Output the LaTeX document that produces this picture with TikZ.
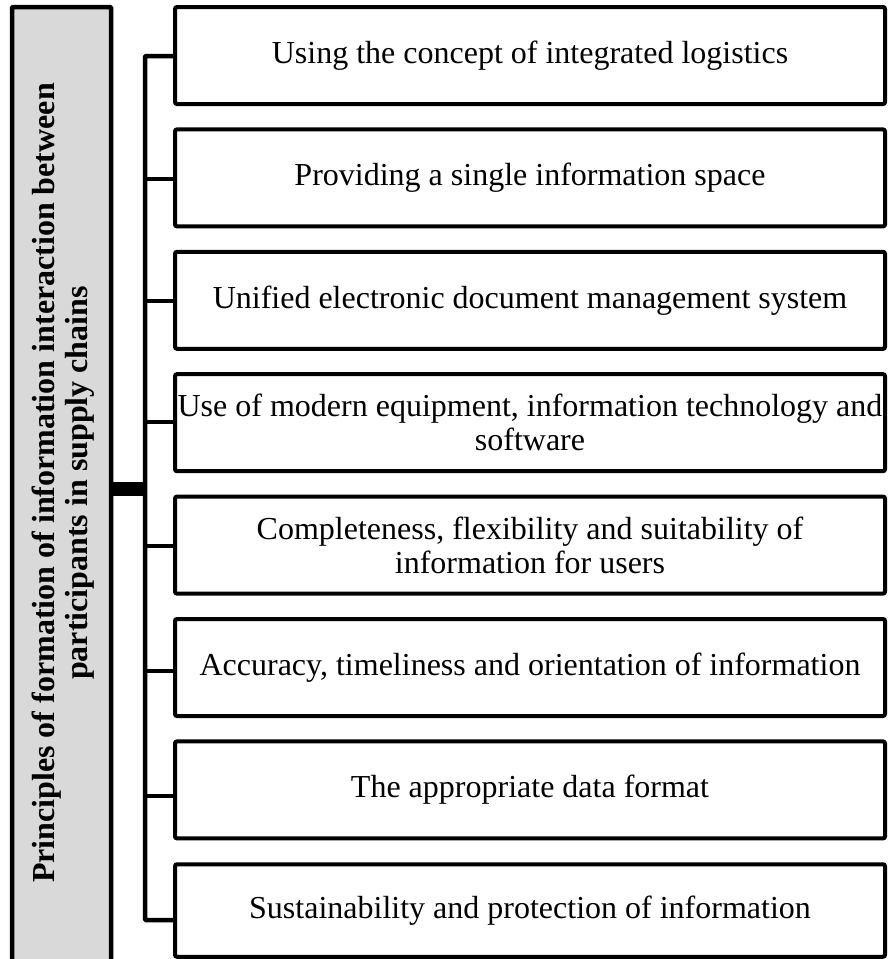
\documentclass[tikz,border=0pt]{standalone}
\usepackage{fontspec}
\setmainfont{Liberation Serif}
\definecolor{leftgray}{RGB}{217,217,217}
\begin{document}
\begin{tikzpicture}[x=1pt,y=-1pt,
  box/.style={draw, line width=4pt, rounded corners=2pt, minimum width=710pt, minimum height=97pt, inner sep=0pt, align=center, font=\fontsize{32}{34}\selectfont},
  conn/.style={line width=4.5pt},
  hubline/.style={line width=14pt},
  mainbox/.style={draw, line width=4.5pt, fill=leftgray, minimum width=99pt, minimum height=980pt, inner sep=0pt, rounded corners=1pt},
  maintext/.style={rotate=90, align=center, inner sep=0pt, font=\bfseries\fontsize{32}{33}\selectfont}
]
\useasboundingbox (0,0) rectangle (888,959);
\clip (0,0) rectangle (888,959);
\node[mainbox] (left) at (61.5,497) {};
\node[maintext] (lefttext) at (63,483) {Principles of formation of information interaction between\\participants in supply chains};

\node[box] (n1) at (530,55.5) {Using the concept of integrated logistics};
\node[box] (n2) at (530,177.9) {Providing a single information space};
\node[box] (n3) at (530,300.3) {Unified electronic document management system};
\node[box] (n4) at (530,422.7) {Use of modern equipment, information technology and\\software};
\node[box] (n5) at (530,545.1) {Completeness, flexibility and suitability of\\information for users};
\node[box] (n6) at (530,667.5) {Accuracy, timeliness and orientation of information};
\node[box] (n7) at (530,789.9) {The appropriate data format};
\node[box, minimum height=92.5pt] (n8) at (530,910.5) {Sustainability and protection of information};

\coordinate (b1) at (145,56);
\coordinate (b2) at (145,179);
\coordinate (b3) at (145,301);
\coordinate (b4) at (145,422);
\coordinate (b5) at (145,546);
\coordinate (b6) at (145,671);
\coordinate (b7) at (145,796);
\coordinate (b8) at (145,920);
\coordinate (hub) at (145,489);

\draw[conn, rounded corners=1pt] (b1 -| n1.west) -- (b1) -- (b8) -- (b8 -| n8.west);
\draw[conn] (b2) -- (b2 -| n2.west);
\draw[conn] (b3) -- (b3 -| n3.west);
\draw[conn] (b4) -- (b4 -| n4.west);
\draw[conn] (b5) -- (b5 -| n5.west);
\draw[conn] (b6) -- (b6 -| n6.west);
\draw[conn] (b7) -- (b7 -| n7.west);
\draw[hubline] (hub -| left.east) -- (hub);
\end{tikzpicture}
\end{document}
